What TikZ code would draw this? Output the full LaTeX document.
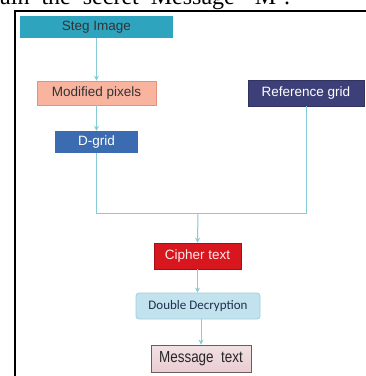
\documentclass[tikz,border=0pt]{standalone}
\usepackage{fontspec}
\setmainfont{Liberation Sans}
\newfontfamily\carlitofont{Carlito}
\newfontfamily\timesfont{Liberation Serif}
\usetikzlibrary{arrows.meta}
\definecolor{lineblue}{HTML}{86CBD8}
\definecolor{stegfill}{HTML}{2FA4BF}
\definecolor{modfill}{HTML}{F9B4A0}
\definecolor{moddraw}{HTML}{E8907A}
\definecolor{reffill}{HTML}{3D3F78}
\definecolor{dgridfill}{HTML}{3B6BB0}
\definecolor{cipherfill}{HTML}{D8161E}
\definecolor{ddfill}{HTML}{C2E2EE}
\definecolor{dddraw}{HTML}{9FCFDF}
\definecolor{msgfill}{HTML}{E9CDD2}
\definecolor{msgdraw}{HTML}{6F5A5E}
\tikzset{
  box/.style={rectangle, inner sep=0pt, align=center, font=\fontsize{13.5}{15}\selectfont},
  conn/.style={draw=lineblue, line width=1pt},
  arr/.style={conn, -{Stealth[length=5pt,width=5pt]}}
}
\begin{document}
\begin{tikzpicture}[x=1pt,y=-1pt]
\useasboundingbox (0,0) rectangle (366,376);
\fill[white] (0,0) rectangle (366,376);
\begin{scope}
\clip (0,0) rectangle (366,376);
\node[anchor=base west, inner sep=0pt, font=\timesfont\fontsize{24}{26}\selectfont] (caption) at (0,4) {\makebox[290pt][s]{ain the secret Message ‘M’.}};
\draw[line width=1.6pt] (15,11) rectangle (400,420);
\end{scope}
\node[box, fill=stegfill, minimum width=153pt, minimum height=22pt, text=black!80] (steg) at (96.5,27) {Steg Image};
\node[box, fill=modfill, draw=moddraw, line width=0.6pt, minimum width=119pt, minimum height=24pt, text=black!80] (mod) at (96.5,93) {Modified pixels};
\node[box, fill=reffill, draw=reffill!80!black, line width=0.6pt, minimum width=116pt, minimum height=26pt, text=white] (ref) at (306,93) {Reference grid};
\node[box, fill=dgridfill, minimum width=83pt, minimum height=22pt, text=white] (dgrid) at (96.5,142) {D-grid};
\node[box, fill=cipherfill, draw=cipherfill!75!black, line width=0.6pt, minimum width=87pt, minimum height=26pt, text=red!8] (cipher) at (197.5,256) {Cipher text};
\node[box, fill=ddfill, draw=dddraw, line width=0.8pt, rounded corners=3pt, minimum width=124pt, minimum height=26pt, text={rgb,255:red,31;green,47;blue,79}, font=\carlitofont\fontsize{13}{15}\selectfont] (dd) at (198,306) {Double Decryption};
\node[box, top color=msgfill!60!white, bottom color=msgfill, draw=msgdraw, line width=0.8pt, minimum width=100pt, minimum height=27pt, text=black!85, font=\fontsize{16}{18}\selectfont] (msg) at (201,358.5) {\scalebox{0.84}[1]{Message\ \ text}};
\coordinate (j) at (198,213);
\draw[arr] (steg.south) -- (mod.north);
\draw[arr] (mod.south) -- (dgrid.north);
\draw[conn] (dgrid.south) |- (j);
\draw[conn] (ref.south) |- (j);
\draw[arr] (j) -- (cipher.north);
\draw[arr] (cipher.south) -- (cipher.south |- dd.north);
\draw[arr] (msg.north |- dd.south) -- (msg.north);
\end{tikzpicture}
\end{document}
